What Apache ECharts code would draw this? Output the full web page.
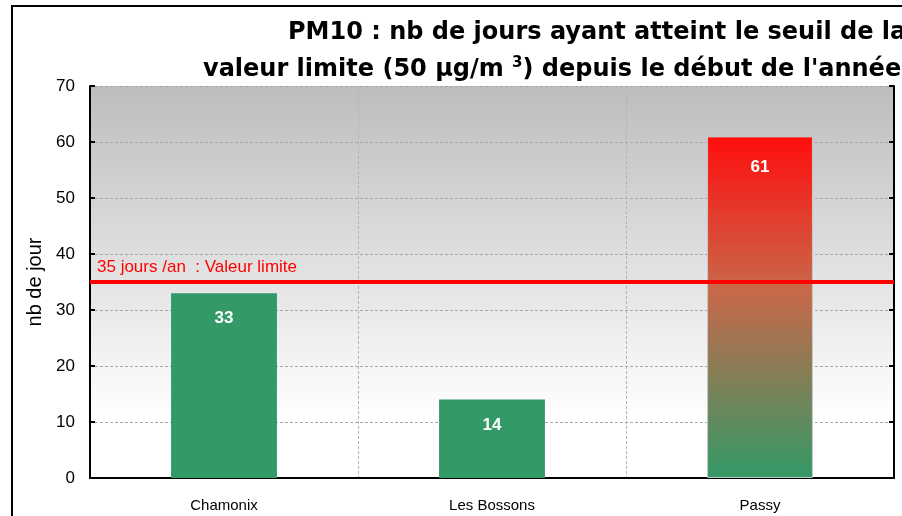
<!DOCTYPE html>
<html><head><meta charset="utf-8">
<script src="https://cdn.jsdelivr.net/npm/echarts@6/dist/echarts.min.js"></script>
<style>html,body{margin:0;padding:0;background:#fff}#c{width:902px;height:516px}</style>
</head><body><div id="c"></div>
<script>
const categories = ['Chamonix', 'Les Bossons', 'Passy'];
const values = [33, 14, 61];
const limitValue = 35;
const limitLabel = '35 jours /an  : Valeur limite';
const yTicks = [0, 10, 20, 30, 40, 50, 60, 70];
const yName = 'nb de jour';

const green = '#339966';
const gradBar = new echarts.graphic.LinearGradient(0, 0, 0, 1, [
  {offset: 0, color: '#ff0d0d'}, {offset: 0.45, color: '#c8684a'}, {offset: 1, color: '#339966'}]);

const chart = echarts.init(document.getElementById('c'), null, {renderer: 'canvas'});
chart.setOption({
  animation: false,
  backgroundColor: '#fff',
  title: [
    {text: 'PM10 : nb de jours ayant atteint le seuil de la', left: 283, top: 16,
     textStyle: {fontFamily: 'DejaVu Sans', fontWeight: 'bold', fontSize: 24, color: '#000'}},
    {text: 'valeur limite (50 µg/m {s|3}) depuis le début de l\'année', left: 198, top: 51,
     textStyle: {fontFamily: 'DejaVu Sans', fontWeight: 'bold', fontSize: 24, color: '#000',
       rich: {s: {fontFamily: 'DejaVu Sans', fontWeight: 'bold', fontSize: 15, verticalAlign: 'top', padding: [0, 0, 12, 0], color: '#000'}}}}
  ],
  graphic: [{type: 'rect', shape: {x: 12, y: 6, width: 1000, height: 600},
    style: {fill: null, stroke: '#000', lineWidth: 2}, silent: true, z: 100}],
  grid: {left: 90, right: 8, top: 86, bottom: 38, show: true, borderWidth: 0,
    backgroundColor: new echarts.graphic.LinearGradient(0, 0, 0, 1, [
      {offset: 0, color: '#bdbdbd'}, {offset: 0.85, color: '#ffffff'}, {offset: 1, color: '#ffffff'}])},
  xAxis: {type: 'category', data: categories,
    axisLine: {lineStyle: {color: '#000', width: 2}},
    axisTick: {inside: true, length: 5, lineStyle: {color: '#000', width: 2}},
    axisLabel: {fontFamily: 'Liberation Sans', fontSize: 15, color: '#000', margin: 20},
    splitLine: {show: true, lineStyle: {color: '#b4b4b4', type: [3, 2], width: 1}}},
  yAxis: [
    {type: 'value', min: yTicks[0], max: yTicks[yTicks.length - 1], interval: 10,
     name: yName, nameLocation: 'middle', nameGap: 45,
     nameTextStyle: {fontFamily: 'Liberation Sans', fontSize: 20, color: '#000'},
     axisLine: {show: true, lineStyle: {color: '#000', width: 2}},
     axisTick: {show: true, inside: true, length: 5, lineStyle: {color: '#000', width: 2}},
     axisLabel: {fontFamily: 'Liberation Sans', fontSize: 17, color: '#000', margin: 15},
     splitLine: {show: true, lineStyle: {color: '#a8a8a8', type: [3, 2], width: 1}}},
    {type: 'value', position: 'right', min: yTicks[0], max: yTicks[yTicks.length - 1], interval: 10,
     axisLine: {show: true, lineStyle: {color: '#000', width: 2}},
     axisTick: {show: true, inside: true, length: 5, lineStyle: {color: '#000', width: 2}},
     axisLabel: {show: false}, splitLine: {show: false}}
  ],
  series: [{
    type: 'bar', data: values.map((v, i) => ({value: v,
      itemStyle: {color: v > limitValue ? gradBar : green,
        borderColor: v > limitValue ? '#c8c8c8' : green, borderWidth: v > limitValue ? 1 : 0},
      label: {distance: v > limitValue ? 22 : 17}})),
    barWidth: '39.5%',
    label: {show: true, position: 'insideTop', color: '#fff', fontWeight: 'bold',
      fontFamily: 'Liberation Sans', fontSize: 17},
    markLine: {silent: true, symbol: 'none',
      lineStyle: {color: '#ff0000', width: 4, type: 'solid'},
      label: {show: true, position: 'insideStartTop', formatter: limitLabel, color: '#ff0000',
        fontFamily: 'Liberation Sans', fontSize: 17, distance: [7, 6]},
      data: [{yAxis: limitValue}]}
  }]
});
</script></body></html>
